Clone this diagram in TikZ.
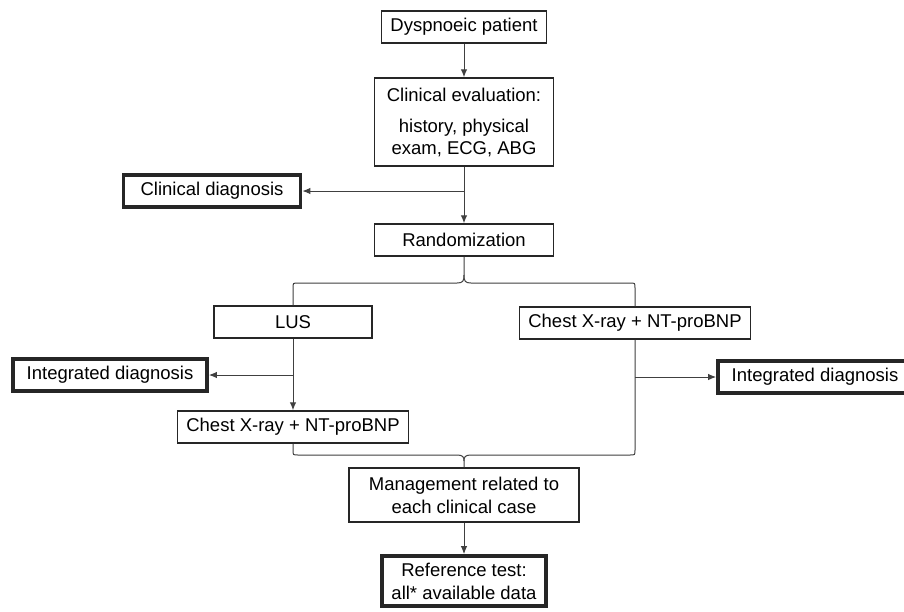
\documentclass[tikz,border=0pt]{standalone}
\usepackage{fontspec}
\setmainfont{Liberation Sans}
\usetikzlibrary{arrows.meta}
\begin{document}
\begin{tikzpicture}[x=1pt,y=-1pt,
  box/.style={draw=black!85, line width=1.5pt, rectangle, inner sep=0pt, align=center,
    font=\fontsize{18.5}{23}\selectfont, fill=white},
  thickbox/.style={box, line width=3.8pt},
  conn/.style={draw=black!75, line width=1pt},
  arr/.style={conn, -{Latex[length=8pt,width=6.5pt]}}]
\useasboundingbox[fill=white] (0,0) rectangle (904,611);
% nodes
\node[box, minimum width=165pt, minimum height=32pt] (dysp) at (464,27) {Dyspnoeic patient};
\node[box, minimum width=179pt, minimum height=88pt] (eval) at (464,122)
  {Clinical evaluation:\\[8pt]history, physical\\[-1pt]exam, ECG, ABG};
\node[thickbox, minimum width=177pt, minimum height=32pt] (clindx) at (212,191) {Clinical diagnosis};
\node[box, minimum width=179pt, minimum height=32pt] (rand) at (464,240) {Randomization};
\node[box, minimum width=158pt, minimum height=32pt] (lus) at (293,322) {LUS};
\node[box, minimum width=231pt, minimum height=32pt] (cxrR) at (635,323) {Chest X-ray + NT-proBNP};
\node[thickbox, minimum width=194pt, minimum height=32pt] (intL) at (110,375) {Integrated diagnosis};
\node[thickbox, minimum width=194pt, minimum height=32pt] (intR) at (815,377) {Integrated diagnosis};
\node[box, minimum width=231pt, minimum height=32pt] (cxrL) at (293,427) {Chest X-ray + NT-proBNP};
\node[box, minimum width=230pt, minimum height=54pt] (mgmt) at (464,495)
  {Management related to\\each clinical case};
\node[thickbox, minimum width=164pt, minimum height=50pt] (ref) at (464,581)
  {Reference test:\\all* available data};
% connectors
\draw[arr] (dysp.south) -- (eval.north);
\draw[arr] (eval.south) -- (rand.north);
\draw[arr] (eval.south |- clindx.east) -- (clindx.east);
% upper brace
\draw[conn] (lus.north) -- (293,288) .. controls (293,283) .. (298,283) -- (457,283)
  .. controls (463,283) and (464,281) .. (464,275) -- (rand.south);
\draw[conn] (cxrR.north) -- (635,288) .. controls (635,283) .. (630,283) -- (471,283)
  .. controls (465,283) and (464,281) .. (464,275);
% left branch
\draw[arr] (lus.south) -- (cxrL.north);
\draw[arr] (lus.south |- intL.east) -- (intL.east);
% right branch
\draw[arr] (cxrR.south |- intR.west) -- (intR.west);
% lower brace
\draw[conn] (cxrL.south) -- (293,450) .. controls (293,455) .. (298,455) -- (457,455)
  .. controls (463,455) and (464,457) .. (464,461) -- (mgmt.north);
\draw[conn] (cxrR.south) -- (635,450) .. controls (635,455) .. (630,455) -- (471,455)
  .. controls (465,455) and (464,457) .. (464,461);
\draw[arr] (mgmt.south) -- (ref.north);
\end{tikzpicture}
\end{document}
